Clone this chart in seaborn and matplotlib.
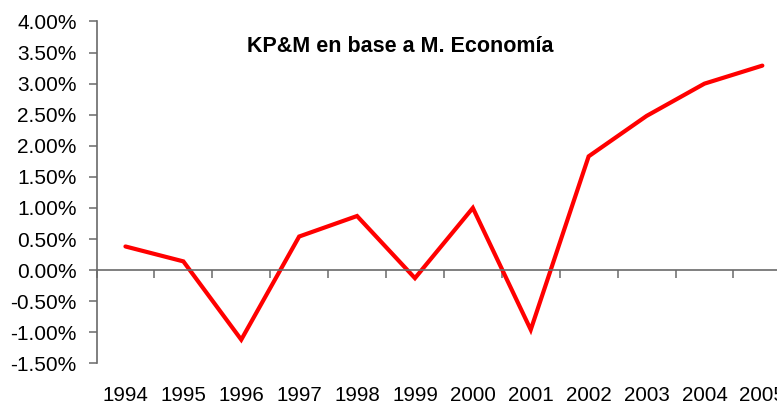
import matplotlib
matplotlib.use("Agg")
import matplotlib.pyplot as plt
import matplotlib.ticker as mticker
import numpy as np
import pandas as pd
import seaborn as sns

years = ["1994", "1995", "1996", "1997", "1998", "1999",
         "2000", "2001", "2002", "2003", "2004", "2005"]
values = [0.38, 0.14, -1.12, 0.54, 0.87, -0.13,
          1.00, -0.96, 1.83, 2.48, 3.00, 3.29]
title = "KP&M en base a M. Economía"

sns.set_style("white")
plt.rcParams["font.family"] = ["Liberation Sans", "DejaVu Sans"]
plt.rcParams["text.color"] = "black"
plt.rcParams["xtick.labelcolor"] = "black"
plt.rcParams["ytick.labelcolor"] = "black"

df = pd.DataFrame({"pos": np.arange(len(years)), "valor": values})

W, H = 777, 403
fig = plt.figure(figsize=(W / 100, H / 100), dpi=100)
left, right = 96.5, 96.5 + 12 * 57.9
top, bottom = 21.5, 363.3
ax = fig.add_axes([left / W, 1 - bottom / H, (right - left) / W, (bottom - top) / H])

sns.lineplot(data=df, x="pos", y="valor", ax=ax, color="#ff0000",
             linewidth=3.0, solid_capstyle="round", solid_joinstyle="miter")

axis_col = "#6a6a6a"
ax.set_xlim(-0.5, len(years) - 0.5)
ax.set_ylim(-1.5, 4.0)
ax.yaxis.set_major_locator(mticker.MultipleLocator(0.5))
ax.yaxis.set_major_formatter(mticker.FuncFormatter(lambda v, p: f"{v:.2f}%"))
ax.tick_params(axis="y", direction="out", length=6, width=1.1, color=axis_col,
               pad=8.4, labelsize=15, labelcolor="black", left=True)

for s in ["top", "right"]:
    ax.spines[s].set_visible(False)
ax.spines["left"].set_color(axis_col)
ax.spines["left"].set_linewidth(1.2)
ax.spines["bottom"].set_position(("data", 0))
ax.spines["bottom"].set_color(axis_col)
ax.spines["bottom"].set_linewidth(1.2)

# tick marks between categories on the zero line
ax.set_xticks(np.arange(-0.5, len(years) + 0.5, 1.0))
ax.set_xticklabels([])
ax.tick_params(axis="x", direction="out", length=6, width=1.1, color=axis_col, bottom=True)

# category labels at the bottom of the plot
sec = ax.secondary_xaxis("bottom")
sec.set_xticks(df["pos"])
sec.set_xticklabels(years)
sec.spines["bottom"].set_visible(False)
sec.tick_params(length=0, pad=16, labelsize=14.8, labelcolor="black")

ax.set_xlabel("")
ax.set_ylabel("")
ax.grid(False)

fig.text(400 / W, 1 - 46 / H, title, ha="center", va="center",
         fontsize=15.5, fontweight="bold", color="black")

fig.savefig("out.png", dpi=100)
